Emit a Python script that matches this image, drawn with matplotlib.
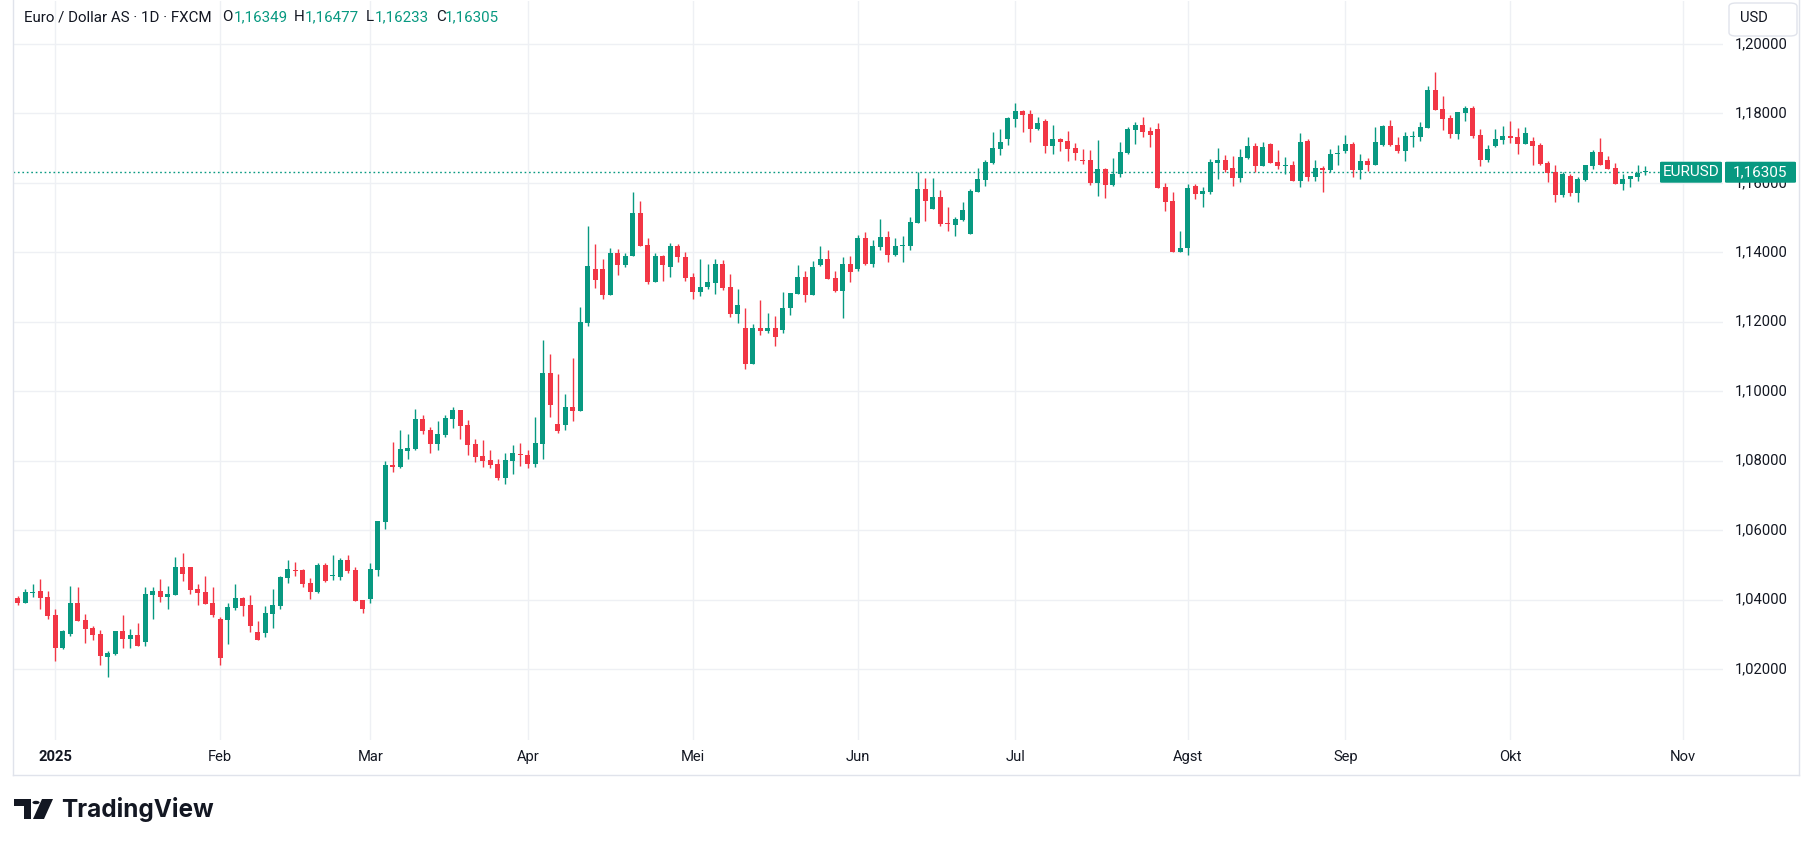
import matplotlib
matplotlib.use("Agg")
import matplotlib.pyplot as plt
from matplotlib.patches import FancyBboxPatch, Polygon, Circle
from matplotlib.lines import Line2D
import matplotlib.transforms as mtransforms
import pandas as pd
import numpy as np

# ---------------- data ----------------
start_date = "2024-12-24"
end_date = "2025-10-27"
holidays = ["2024-12-25", "2025-01-01"]

opens = [1.0404,1.0390,1.0419,1.0424,1.0407,1.0355,1.0261,1.0301,1.0389,1.0341,
         1.0318,1.0300,1.0235,1.0244,1.0309,1.0287,1.0298,1.0278,1.0413,1.0424,
         1.0408,1.0413,1.0493,1.0493,1.0430,1.0421,1.0389,1.0344,1.0341,1.0375,
         1.0404,1.0384,1.0306,1.0303,1.0358,1.0381,1.0461,1.0484,1.0484,1.0447,
         1.0421,1.0501,1.0469,1.0464,1.0513,1.0484,1.0398,1.0401,1.0484,1.0622,
         1.0787,1.0781,1.0827,1.0833,1.0919,1.0888,1.0847,1.0873,1.0919,1.0945,
         1.0902,1.0847,1.0813,1.0801,1.0789,1.0749,1.0798,1.0818,1.0815,1.0790,
         1.0848,1.1052,1.0905,1.0903,1.0954,1.0943,1.1197,1.1352,1.1352,1.1278,
         1.1398,1.1362,1.1390,1.1513,1.1421,1.1313,1.1389,1.1359,1.1418,1.1387,
         1.1329,1.1285,1.1300,1.1312,1.1366,1.1299,1.1221,1.1182,1.1079,1.1182,
         1.1172,1.1182,1.1175,1.1239,1.1280,1.1328,1.1277,1.1364,1.1381,1.1325,
         1.1288,1.1366,1.1352,1.1441,1.1367,1.1416,1.1444,1.1393,1.1418,1.1419,
         1.1484,1.1582,1.1526,1.1559,1.1483,1.1479,1.1493,1.1454,1.1575,1.1609,
         1.1658,1.1697,1.1726,1.1784,1.1807,1.1798,1.1755,1.1778,1.1706,1.1726,
         1.1720,1.1700,1.1666,1.1666,1.1600,1.1640,1.1594,1.1625,1.1686,1.1752,
         1.1766,1.1749,1.1755,1.1588,1.1548,1.1402,1.1411,1.1592,1.1567,1.1575,
         1.1657,1.1666,1.1643,1.1615,1.1672,1.1706,1.1647,1.1711,1.1660,1.1647,
         1.1651,1.1604,1.1720,1.1618,1.1643,1.1638,1.1684,1.1692,1.1712,1.1636,
         1.1664,1.1650,1.1710,1.1764,1.1710,1.1693,1.1732,1.1732,1.1758,1.1867,
         1.1812,1.1787,1.1741,1.1801,1.1815,1.1738,1.1665,1.1705,1.1724,1.1735,
         1.1732,1.1712,1.1721,1.1709,1.1658,1.1630,1.1564,1.1621,1.1570,1.1607,
         1.1647,1.1689,1.1667,1.1644,1.1598,1.1610,1.1618,1.1631]
highs = [1.0410,1.0430,1.0445,1.0458,1.0424,1.0372,1.0312,1.0438,1.0435,1.0358,
         1.0323,1.0312,1.0252,1.0309,1.0355,1.0315,1.0332,1.0435,1.0435,1.0458,
         1.0438,1.0522,1.0533,1.0493,1.0445,1.0467,1.0435,1.0349,1.0390,1.0445,
         1.0407,1.0412,1.0338,1.0381,1.0430,1.0467,1.0513,1.0507,1.0487,1.0461,
         1.0504,1.0504,1.0527,1.0519,1.0527,1.0493,1.0398,1.0504,1.0627,1.0798,
         1.0853,1.0888,1.0876,1.0948,1.0931,1.0896,1.0914,1.0931,1.0954,1.0945,
         1.0916,1.0862,1.0859,1.0830,1.0804,1.0821,1.0844,1.0850,1.0830,1.0925,
         1.1147,1.1107,1.1049,1.0991,1.1095,1.1242,1.1476,1.1424,1.1381,1.1413,
         1.1410,1.1398,1.1574,1.1548,1.1441,1.1398,1.1392,1.1427,1.1424,1.1401,
         1.1341,1.1381,1.1366,1.1381,1.1378,1.1337,1.1293,1.1241,1.1194,1.1264,
         1.1226,1.1217,1.1287,1.1284,1.1363,1.1346,1.1375,1.1418,1.1407,1.1346,
         1.1386,1.1389,1.1451,1.1457,1.1436,1.1496,1.1460,1.1441,1.1448,1.1502,
         1.1630,1.1614,1.1614,1.1579,1.1531,1.1502,1.1545,1.1582,1.1643,1.1666,
         1.1746,1.1755,1.1789,1.1830,1.1810,1.1810,1.1789,1.1784,1.1766,1.1729,
         1.1749,1.1715,1.1697,1.1695,1.1723,1.1643,1.1671,1.1718,1.1761,1.1775,
         1.1789,1.1761,1.1772,1.1600,1.1574,1.1461,1.1597,1.1597,1.1589,1.1669,
         1.1700,1.1680,1.1677,1.1697,1.1731,1.1714,1.1717,1.1714,1.1694,1.1674,
         1.1663,1.1743,1.1726,1.1666,1.1649,1.1697,1.1709,1.1738,1.1718,1.1684,
         1.1672,1.1761,1.1767,1.1781,1.1732,1.1747,1.1750,1.1775,1.1878,1.1918,
         1.1850,1.1795,1.1804,1.1821,1.1821,1.1755,1.1710,1.1755,1.1764,1.1778,
         1.1758,1.1761,1.1732,1.1715,1.1664,1.1650,1.1632,1.1624,1.1618,1.1650,
         1.1695,1.1729,1.1678,1.1658,1.1624,1.1621,1.1652,1.1648]
lows = [1.0385,1.0389,1.0408,1.0373,1.0344,1.0224,1.0258,1.0296,1.0338,1.0276,
        1.0285,1.0211,1.0178,1.0240,1.0261,1.0261,1.0267,1.0267,1.0344,1.0393,
        1.0373,1.0413,1.0454,1.0416,1.0385,1.0388,1.0350,1.0211,1.0272,1.0369,
        1.0352,1.0306,1.0283,1.0292,1.0318,1.0372,1.0447,1.0467,1.0435,1.0401,
        1.0418,1.0450,1.0456,1.0456,1.0476,1.0395,1.0361,1.0389,1.0469,1.0603,
        1.0766,1.0778,1.0804,1.0830,1.0876,1.0821,1.0830,1.0867,1.0893,1.0862,
        1.0815,1.0795,1.0781,1.0778,1.0743,1.0732,1.0763,1.0784,1.0778,1.0782,
        1.0805,1.0926,1.0880,1.0889,1.0914,1.0943,1.1189,1.1298,1.1266,1.1278,
        1.1336,1.1359,1.1390,1.1419,1.1310,1.1313,1.1318,1.1330,1.1373,1.1318,
        1.1266,1.1274,1.1294,1.1280,1.1291,1.1213,1.1195,1.1064,1.1079,1.1163,
        1.1169,1.1131,1.1169,1.1218,1.1280,1.1256,1.1277,1.1361,1.1323,1.1285,
        1.1210,1.1315,1.1345,1.1362,1.1359,1.1408,1.1373,1.1388,1.1373,1.1408,
        1.1484,1.1490,1.1526,1.1477,1.1461,1.1448,1.1490,1.1454,1.1575,1.1592,
        1.1655,1.1680,1.1709,1.1761,1.1746,1.1718,1.1752,1.1686,1.1683,1.1692,
        1.1663,1.1666,1.1654,1.1594,1.1562,1.1556,1.1592,1.1617,1.1683,1.1712,
        1.1732,1.1703,1.1585,1.1519,1.1402,1.1402,1.1393,1.1552,1.1530,1.1567,
        1.1612,1.1630,1.1592,1.1601,1.1670,1.1631,1.1647,1.1658,1.1641,1.1624,
        1.1604,1.1587,1.1604,1.1604,1.1575,1.1630,1.1651,1.1687,1.1616,1.1611,
        1.1633,1.1650,1.1705,1.1705,1.1685,1.1662,1.1702,1.1719,1.1758,1.1810,
        1.1752,1.1730,1.1727,1.1778,1.1730,1.1648,1.1659,1.1702,1.1712,1.1715,
        1.1684,1.1712,1.1652,1.1650,1.1601,1.1544,1.1558,1.1561,1.1544,1.1604,
        1.1641,1.1650,1.1641,1.1598,1.1578,1.1587,1.1604,1.1623]
closes = [1.0390,1.0421,1.0421,1.0405,1.0352,1.0261,1.0309,1.0389,1.0338,1.0315,
          1.0298,1.0238,1.0246,1.0309,1.0287,1.0298,1.0267,1.0415,1.0424,1.0408,
          1.0415,1.0493,1.0474,1.0428,1.0419,1.0388,1.0356,1.0233,1.0378,1.0404,
          1.0381,1.0323,1.0283,1.0361,1.0384,1.0464,1.0487,1.0482,1.0444,1.0421,
          1.0501,1.0453,1.0471,1.0513,1.0481,1.0395,1.0372,1.0487,1.0625,1.0787,
          1.0781,1.0833,1.0836,1.0919,1.0885,1.0847,1.0876,1.0922,1.0945,1.0899,
          1.0844,1.0810,1.0798,1.0787,1.0749,1.0801,1.0821,1.0815,1.0790,1.0850,
          1.1052,1.0961,1.0886,1.0954,1.0943,1.1199,1.1361,1.1321,1.1278,1.1398,
          1.1362,1.1389,1.1513,1.1419,1.1313,1.1389,1.1362,1.1418,1.1385,1.1327,
          1.1287,1.1299,1.1314,1.1366,1.1297,1.1221,1.1247,1.1079,1.1182,1.1172,
          1.1182,1.1157,1.1241,1.1282,1.1328,1.1277,1.1357,1.1381,1.1323,1.1288,
          1.1366,1.1344,1.1442,1.1367,1.1418,1.1444,1.1393,1.1418,1.1420,1.1487,
          1.1582,1.1548,1.1559,1.1480,1.1481,1.1496,1.1522,1.1577,1.1611,1.1660,
          1.1700,1.1718,1.1787,1.1807,1.1795,1.1755,1.1772,1.1706,1.1726,1.1718,
          1.1697,1.1686,1.1663,1.1600,1.1640,1.1594,1.1625,1.1689,1.1755,1.1766,
          1.1746,1.1738,1.1585,1.1545,1.1402,1.1413,1.1586,1.1567,1.1577,1.1660,
          1.1666,1.1638,1.1615,1.1674,1.1706,1.1647,1.1703,1.1658,1.1647,1.1651,
          1.1604,1.1717,1.1618,1.1643,1.1638,1.1683,1.1686,1.1712,1.1636,1.1664,
          1.1650,1.1718,1.1764,1.1708,1.1693,1.1735,1.1735,1.1761,1.1867,1.1810,
          1.1784,1.1741,1.1804,1.1815,1.1735,1.1665,1.1698,1.1727,1.1735,1.1729,
          1.1712,1.1744,1.1707,1.1655,1.1627,1.1564,1.1624,1.1570,1.1610,1.1650,
          1.1689,1.1650,1.1641,1.1598,1.1612,1.1621,1.1627,1.1635]

price_levels = [1.02, 1.04, 1.06, 1.08, 1.10, 1.12, 1.14, 1.16, 1.18, 1.20]
price_labels = ["1,02000", "1,04000", "1,06000", "1,08000", "1,10000",
                "1,12000", "1,14000", "1,16000", "1,18000", "1,20000"]
month_labels = ["2025", "Feb", "Mar", "Apr", "Mei", "Jun", "Jul", "Agst", "Sep", "Okt", "Nov"]
last_price = 1.16305
last_price_label = "1,16305"
symbol = "EURUSD"
title_text = "Euro / Dollar AS \u00b7 1D \u00b7 FXCM"
ohlc_letters = ["O", "H", "L", "C"]
ohlc_values = ["1,16349", "1,16477", "1,16233", "1,16305"]

# ---------------- dates / positions ----------------
all_bdays = pd.bdate_range(start_date, "2025-11-07")
all_bdays = all_bdays[~all_bdays.isin(pd.to_datetime(holidays))]
dates = all_bdays[all_bdays <= pd.Timestamp(end_date)]
n = len(dates)
xs = np.arange(n)

month_pos = []
prev = None
for i, d in enumerate(all_bdays):
    key = (d.year, d.month)
    if key != prev:
        if d >= pd.Timestamp("2025-01-01"):
            month_pos.append(i)
        prev = key
month_pos = month_pos[:len(month_labels)]

# ---------------- figure ----------------
W, H = 1802, 846
fig = plt.figure(figsize=(W / 100, H / 100), dpi=100)
fig.patch.set_facecolor("white")

def fx(px):
    return px / W

def fy(py):
    return 1 - py / H

FONT = ["Roboto", "DejaVu Sans"]
TXT = "#131722"
GREEN = "#089981"
RED = "#F23645"
GRID = "#EEF0F4"

pane_left, pane_right, pane_top, pane_bottom = 13, 1723, 1, 740
ax = fig.add_axes([fx(pane_left), fy(pane_bottom), fx(pane_right) - fx(pane_left), fy(pane_top) - fy(pane_bottom)])
ax.set_facecolor("white")
for s in ax.spines.values():
    s.set_visible(False)
ax.set_xticks([])
ax.set_yticks([])

px_per_unit = 3473.0
y_at_1p20 = 43.9
ax.set_ylim(1.20 - (pane_bottom - y_at_1p20) / px_per_unit, 1.20 + (y_at_1p20 - pane_top) / px_per_unit)
bar_px = 7.5
x_first_month_px = 55.3
ax.set_xlim(month_pos[0] + (pane_left - x_first_month_px) / bar_px,
            month_pos[0] + (pane_right - x_first_month_px) / bar_px)

# grid
for lv in price_levels:
    ax.axhline(lv, color=GRID, lw=1, zorder=0)
for mp in month_pos:
    ax.axvline(mp, color=GRID, lw=1, zorder=0)

# candles
o = np.array(opens); h = np.array(highs); l = np.array(lows); c = np.array(closes)
up = c >= o
cols = np.where(up, GREEN, RED)
ax.vlines(xs, l, h, colors=cols, lw=1.0, zorder=2)
body_bottom = np.minimum(o, c)
body_h = np.maximum(np.abs(c - o), 0.00030)
ax.bar(xs, body_h, bottom=body_bottom, width=0.66, color=cols, linewidth=0, zorder=3)

# price line
fig.canvas.draw()
lp_y_fig = ax.transData.transform((0, last_price))[1]
lp_py = H - lp_y_fig
x_end_data = ax.transData.inverted().transform((1660, 0))[0]
ax.plot([ax.get_xlim()[0], x_end_data], [last_price, last_price], color=GREEN,
        lw=1.0, linestyle=(0, (1.2, 2.0)), zorder=1)

# price axis labels
trans_price = mtransforms.blended_transform_factory(fig.transFigure, ax.transData)
for lv, lab in zip(price_levels, price_labels):
    fig.text(fx(1735), lv, lab, transform=trans_price, ha="left", va="center",
             fontsize=10.6, color=TXT, family=FONT, zorder=5)

# time axis labels
trans_time = mtransforms.blended_transform_factory(ax.transData, fig.transFigure)
for mp, lab in zip(month_pos, month_labels):
    fig.text(mp, fy(757), lab, transform=trans_time, ha="center", va="center",
             fontsize=10.6, color=TXT, family=FONT,
             fontweight="bold" if lab == "2025" else "normal")

# last price labels
bh = 21
box1 = FancyBboxPatch((fx(1660), fy(lp_py + bh / 2)), fx(1722) - fx(1660), bh / H,
                      boxstyle="round,pad=0,rounding_size=0.001", transform=fig.transFigure,
                      facecolor=GREEN, edgecolor="none", zorder=10)
fig.patches.append(box1)
fig.text(fx(1691), fy(lp_py), symbol, ha="center", va="center", fontsize=11,
         color="white", family=FONT, zorder=11)
box2 = FancyBboxPatch((fx(1725), fy(lp_py + bh / 2)), fx(1796) - fx(1725), bh / H,
                      boxstyle="round,pad=0,rounding_size=0.001", transform=fig.transFigure,
                      facecolor=GREEN, edgecolor="none", zorder=10)
fig.patches.append(box2)
fig.text(fx(1760), fy(lp_py), last_price_label, ha="center", va="center", fontsize=11,
         color="white", family=FONT, zorder=11)

# USD box
usd = FancyBboxPatch((fx(1729), fy(36)), fx(1797) - fx(1729), 33 / H,
                     boxstyle="round,pad=0,rounding_size=0.004", transform=fig.transFigure,
                     facecolor="white", edgecolor="#E0E3EB", lw=1, zorder=10)
fig.patches.append(usd)
fig.text(fx(1740), fy(18), "USD", ha="left", va="center", fontsize=10.6, color=TXT,
         family=FONT, zorder=11)

# header
fig.text(fx(24), fy(17), title_text, ha="left", va="center", fontsize=10.9, color=TXT, family=FONT)
letter_x = [222, 294, 366, 436]
value_x = [234, 305, 375, 445]
for lx, vx, let, val in zip(letter_x, value_x, ohlc_letters, ohlc_values):
    fig.text(fx(lx), fy(17), let, ha="left", va="center", fontsize=10.9, color=TXT, family=FONT)
    fig.text(fx(vx), fy(17), val, ha="left", va="center", fontsize=10.9, color=GREEN, family=FONT)

# container border
border_col = "#E0E3EB"
fig.add_artist(Line2D([fx(12.5), fx(12.5)], [fy(0), fy(775)], color=border_col, lw=1))
fig.add_artist(Line2D([fx(1799), fx(1799)], [fy(0), fy(775)], color=border_col, lw=1))
fig.add_artist(Line2D([fx(12.5), fx(1799)], [fy(775), fy(775)], color=border_col, lw=1))

# TradingView logo
logo_col = "#131722"
left_piece = Polygon([(fx(14), fy(799)), (fx(31), fy(799)), (fx(31), fy(819)), (fx(24), fy(819)),
                      (fx(24), fy(806)), (fx(14), fy(806))], closed=True,
                     transform=fig.transFigure, facecolor=logo_col, edgecolor="none")
fig.patches.append(left_piece)
dot = Circle((fx(36), fy(802.5)), 3.6 / W, transform=fig.transFigure, facecolor=logo_col, edgecolor="none")
fig.patches.append(dot)
right_piece = Polygon([(fx(42), fy(799)), (fx(53), fy(799)), (fx(44), fy(819)), (fx(33), fy(819))],
                      closed=True, transform=fig.transFigure, facecolor=logo_col, edgecolor="none")
fig.patches.append(right_piece)
fig.text(fx(61), fy(809), "TradingView", ha="left", va="center", fontsize=17.5,
         fontweight="bold", color=logo_col, family=["Inter", "Roboto", "DejaVu Sans"])

fig.savefig("out.png", dpi=100, facecolor="white")
